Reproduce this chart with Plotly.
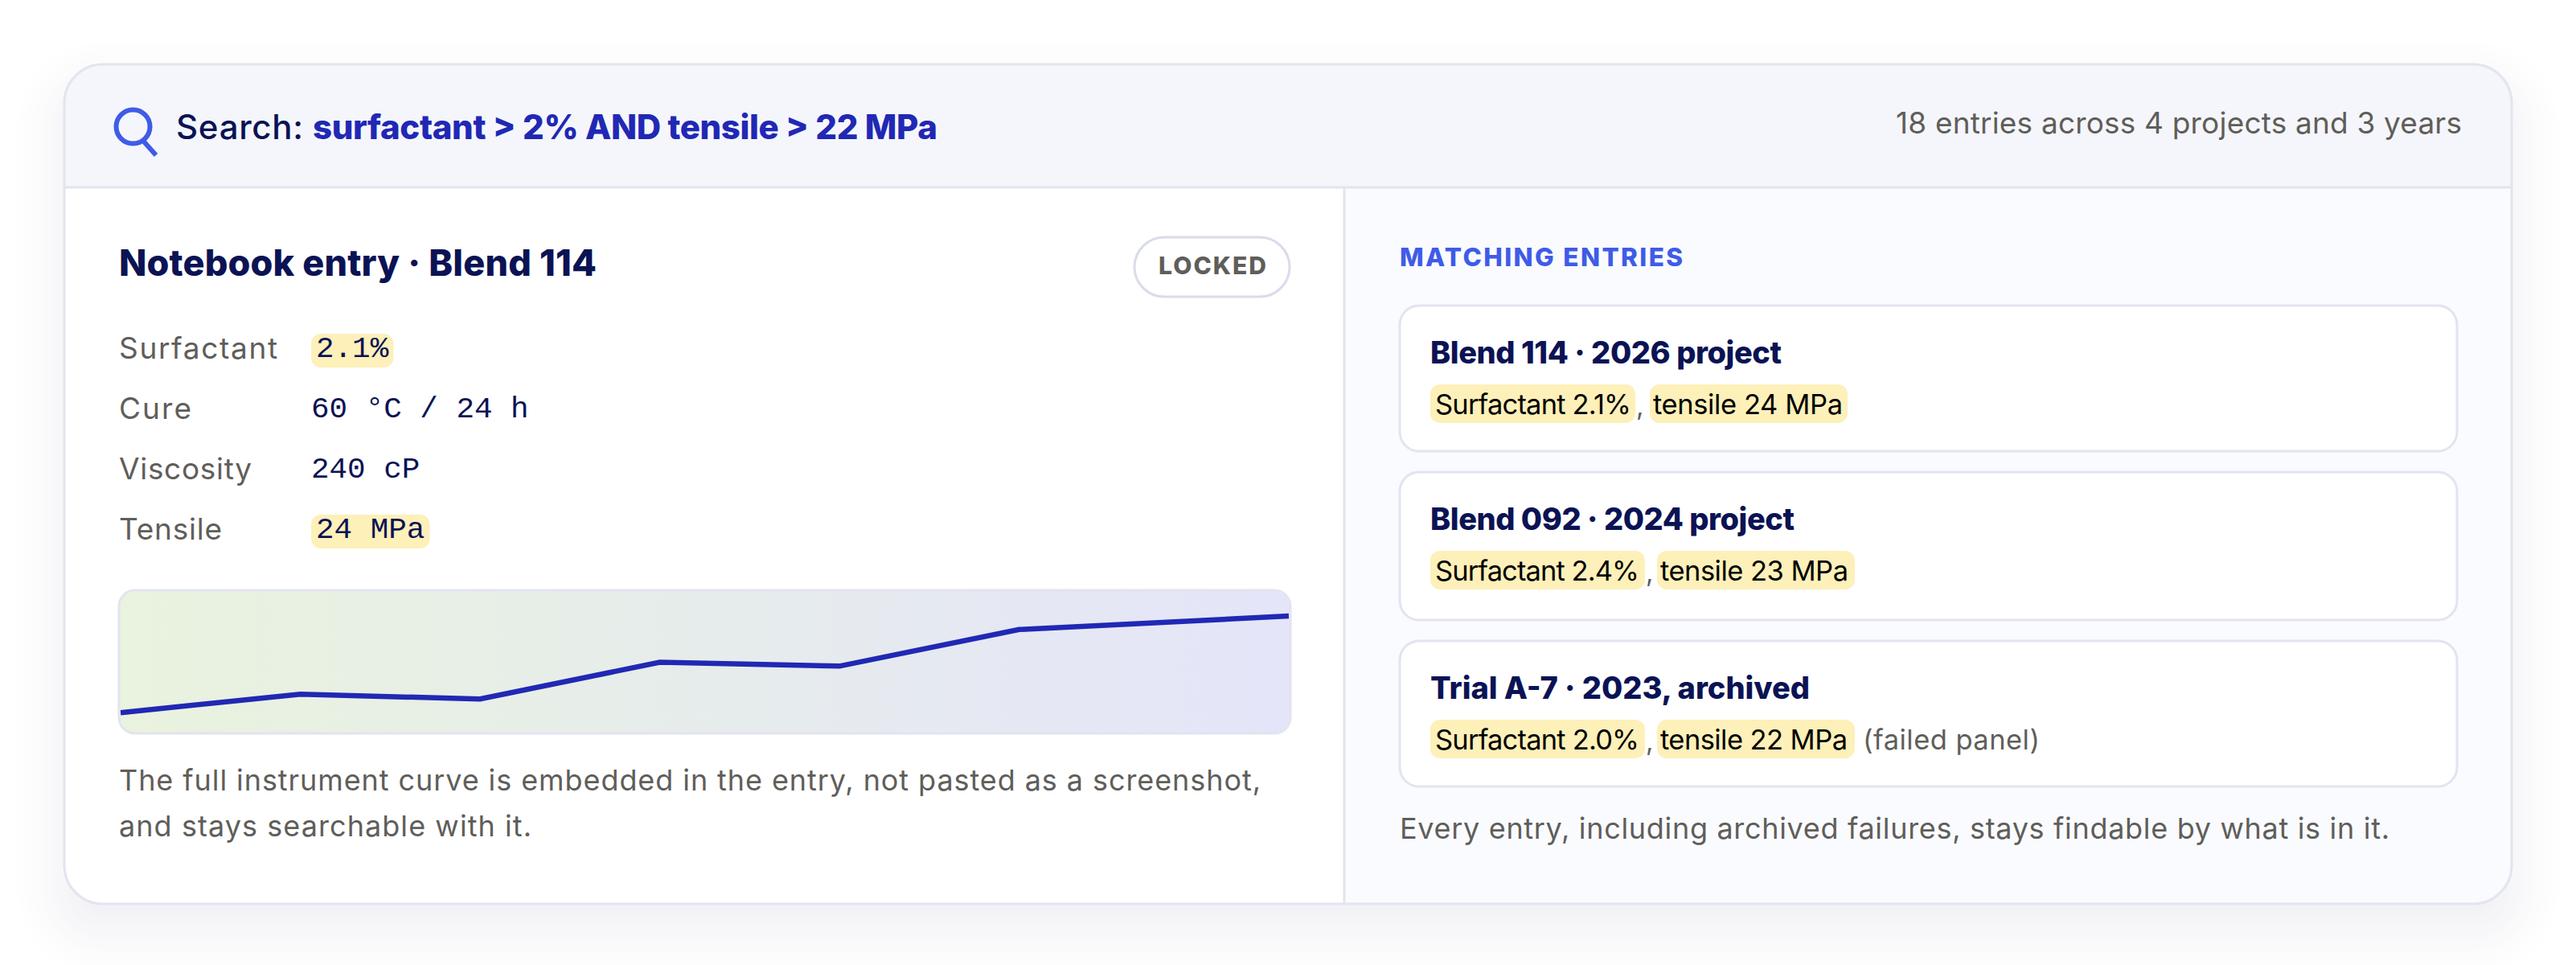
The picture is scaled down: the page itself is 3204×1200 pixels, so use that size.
import json
import plotly.graph_objects as go

# ---- content -------------------------------------------------------------
SEARCH_LABEL = "Search:"
SEARCH_QUERY = "surfactant > 2% AND tensile > 22 MPa"
SEARCH_SUMMARY = "18 entries across 4 projects and 3 years"
ENTRY_TITLE = "Notebook entry · Blend 114"
ENTRY_STATUS = "LOCKED"
FIELD_NAMES = ["Surfactant", "Cure", "Viscosity", "Tensile"]
FIELD_VALUES = ["2.1%", "60 °C / 24 h", "240 cP", "24 MPa"]
ENTRY_NOTE = [
    "The full instrument curve is embedded in the entry, not pasted as a screenshot,",
    "and stays searchable with it.",
]
CURVE_X = [0, 1, 2, 3, 4, 5, 6.5]
CURVE_Y = [14.5, 27.4, 24.0, 49.7, 47.0, 72.6, 82.0]
MATCH_HEAD = "MATCHING ENTRIES"
MATCH_TITLES = ["Blend 114 · 2026 project", "Blend 092 · 2024 project", "Trial A-7 · 2023, archived"]
MATCH_SURFACTANT = ["Surfactant 2.1%", "Surfactant 2.4%", "Surfactant 2.0%"]
MATCH_TENSILE = ["tensile 24 MPa", "tensile 23 MPa", "tensile 22 MPa"]
MATCH_EXTRA = ["", "", "(failed panel)"]
FOOTNOTE = "Every entry, including archived failures, stays findable by what is in it."

# ---- styling --------------------------------------------------------------
W, H = 3204, 1200
NAVY, BLUE, ACCENT, GREY = "#0b1354", "#2128b4", "#3f5be8", "#5f5e5a"
BORDER, HILITE = "#e2e4ef", "#fdf0b9"
SANS = "Inter"
MONO = "Liberation Mono"


def px(x):
    return x / W


def py(y):
    return 1 - y / H


def rr_path(x0, y0, x1, y1, tl=0, tr=0, br=0, bl=0):
    k = 0.45
    P = lambda x, y: f"{px(x):.6f},{py(y):.6f}"
    d = f"M{P(x0 + tl, y0)} L{P(x1 - tr, y0)} "
    if tr:
        d += f"C{P(x1 - tr * k, y0)} {P(x1, y0 + tr * k)} {P(x1, y0 + tr)} "
    d += f"L{P(x1, y1 - br)} "
    if br:
        d += f"C{P(x1, y1 - br * k)} {P(x1 - br * k, y1)} {P(x1 - br, y1)} "
    d += f"L{P(x0 + bl, y1)} "
    if bl:
        d += f"C{P(x0 + bl * k, y1)} {P(x0, y1 - bl * k)} {P(x0, y1 - bl)} "
    d += f"L{P(x0, y0 + tl)} "
    if tl:
        d += f"C{P(x0, y0 + tl * k)} {P(x0 + tl * k, y0)} {P(x0 + tl, y0)} "
    return d + "Z"


shapes, notes, fit = [], [], {}


def box(x0, y0, x1, y1, r=0, fill=None, line=None, lw=0, layer="below", **corners):
    radii = dict(tl=r, tr=r, br=r, bl=r)
    radii.update(corners)
    shapes.append(dict(type="path", xref="paper", yref="paper", layer=layer,
                       path=rr_path(x0, y0, x1, y1, **radii),
                       fillcolor=fill or "rgba(0,0,0,0)",
                       line=dict(color=line or "rgba(0,0,0,0)", width=lw)))


def rule(x0, y0, x1, y1, color=BORDER, lw=3, layer="below"):
    shapes.append(dict(type="line", xref="paper", yref="paper", layer=layer,
                       x0=px(x0), y0=py(y0), x1=px(x1), y1=py(y1),
                       line=dict(color=color, width=lw)))


def text(s, x, y, size, color, family=SANS, weight=400, width=None):
    notes.append(dict(text=s, x=px(x), y=py(y), xref="paper", yref="paper",
                      xanchor="left", yanchor="middle", showarrow=False,
                      borderpad=0, borderwidth=0, align="left",
                      font=dict(family=family, size=size, color=color, weight=weight)))
    if width:
        fit[s] = width


# soft drop shadow: nested opaque rounded rectangles, outermost first
STEPS = 30
SPREAD, DROP = 66, 30
for i in range(STEPS):
    t = (i + 1) / STEPS
    grow = SPREAD - 2 * SPREAD * t
    tone = 0.5 * t + 0.5 * t * t * (3 - 2 * t)
    d = 18 * tone
    c = (255 - round(d), 255 - round(d), 255 - round(d * 0.68))
    box(80 - grow, 80 + DROP - grow, 3124 + grow, 1124 + DROP + grow, r=max(48 + grow, 8), fill=f"rgb{c}")

# card
box(80, 80, 3124, 1124, r=48, fill="#ffffff")
box(80, 80, 3124, 233, fill="#f5f6fb", tl=48, tr=48, br=0, bl=0)
box(1672, 233, 3124, 1124, fill="#fafbff", tl=0, tr=0, br=48, bl=0)
rule(80, 233, 3124, 233)
rule(1672, 233, 1672, 1124)
box(80, 80, 3124, 1124, r=48, line=BORDER, lw=3)

# search header
shapes.append(dict(type="circle", xref="paper", yref="paper", layer="below",
                   x0=px(144.5), x1=px(186.5), y0=py(136.5), y1=py(178.5),
                   line=dict(color=ACCENT, width=6)))
rule(178, 175, 194, 193, ACCENT, 6)
text(SEARCH_LABEL, 219, 157, 42, NAVY, weight=500, width=158)
text(SEARCH_QUERY, 389, 157, 42, BLUE, weight=800, width=777)
text(SEARCH_SUMMARY, 2358, 153, 37, GREY, width=704)

# notebook entry
text(ENTRY_TITLE, 148, 327, 45, NAVY, weight=800, width=594)
box(1411, 295, 1604, 369, r=37, fill="#ffffff", line="#d9dcea", lw=3)
text(ENTRY_STATUS, 1441, 330, 30, GREY, weight=800, width=134)

ROW_Y = [432, 507, 582, 657]
NAME_W = [197, 90, 165, 128]
for name, value, y, w in zip(FIELD_NAMES, FIELD_VALUES, ROW_Y, NAME_W):
    text(name, 148, y, 37, GREY, width=w)
    if value in (FIELD_VALUES[0], FIELD_VALUES[3]):
        right = 387 + 12 + 22.6 * len(value)
        box(387, y - 17, right, y + 25, r=12, fill=HILITE)
        text(value, 393, y + 2, 37.6, NAVY, family=MONO)
    else:
        text(value, 387, y + 2, 37.6, NAVY, family=MONO)

NOTE_W = [1420, 513]
for line_text, y, w in zip(ENTRY_NOTE, [970, 1027], NOTE_W):
    text(line_text, 148, y, 36, GREY, width=w)

# matching entries
text(MATCH_HEAD, 1741, 319, 31.5, ACCENT, weight=800, width=352)
CARD_TOP = [380, 587, 797]
CARD_BOTTOM = [561, 771, 978]
TITLE_W = [437, 453, 472]
HI_A = [(1779, 2034), (1779, 2046), (1779, 2046)]
HI_B = [(2052, 2298), (2061, 2307), (2061, 2307)]
TXT_A = [244, 254, 254]
TXT_B = [236, 234, 233]
for i in range(3):
    top, bottom = CARD_TOP[i], CARD_BOTTOM[i]
    box(1741, top, 3056, bottom, r=24, fill="#ffffff", line=BORDER, lw=3)
    text(MATCH_TITLES[i], 1779, top + 58, 38, NAVY, weight=800, width=TITLE_W[i])
    y0, y1 = top + 98, top + 146
    box(HI_A[i][0], y0, HI_A[i][1], y1, r=12, fill=HILITE)
    box(HI_B[i][0], y0, HI_B[i][1], y1, r=12, fill=HILITE)
    text(MATCH_SURFACTANT[i], HI_A[i][0] + 6, top + 122, 34.5, "#000000", width=TXT_A[i])
    text(",", HI_A[i][1] + 1, top + 124, 33, GREY)
    text(MATCH_TENSILE[i], HI_B[i][0] + 4, top + 122, 34.5, "#000000", width=TXT_B[i])
    if MATCH_EXTRA[i]:
        text(MATCH_EXTRA[i], HI_B[i][1] + 10, top + 122, 34.5, GREY, width=220)
text(FOOTNOTE, 1741, 1030, 36, GREY, width=1231)

# instrument curve plot: axis scale is pixel-fitted so 0 and 6.5 sit just inside the box
BX0, BX1, BY0, BY1 = 148, 1605, 734, 912
UNIT = (1603 - 150) / 6.5
x_lo, x_hi = (BX0 - 150) / UNIT, (BX1 - 150) / UNIT


def to_x(p):
    return (p - 150) / UNIT


def to_y(p):
    return (BY1 - p) / (BY1 - BY0) * 100


R = 20
outline = [(BX0 + R, BY0), (BX1 - R, BY0), (BX1 - R * .29, BY0 + R * .29), (BX1, BY0 + R),
           (BX1, BY1 - R), (BX1 - R * .29, BY1 - R * .29), (BX1 - R, BY1),
           (BX0 + R, BY1), (BX0 + R * .29, BY1 - R * .29), (BX0, BY1 - R),
           (BX0, BY0 + R), (BX0 + R * .29, BY0 + R * .29), (BX0 + R, BY0)]

fig = go.Figure()
fig.add_trace(go.Scatter(
    x=[to_x(p[0]) for p in outline], y=[to_y(p[1]) for p in outline],
    mode="lines", line=dict(width=0), fill="toself", hoverinfo="skip", showlegend=False,
    fillgradient=dict(type="horizontal", colorscale=[[0, "#e9f3de"], [1, "#e4e5f9"]])))
fig.add_trace(go.Scatter(
    x=CURVE_X, y=CURVE_Y, mode="lines", hoverinfo="skip", showlegend=False,
    line=dict(color=BLUE, width=6.5)))
box(BX0, BY0, BX1, BY1, r=R, line=BORDER, lw=3, layer="above")

axis = dict(visible=False, fixedrange=True, showgrid=False, zeroline=False)
fig.update_layout(
    width=W, height=H, autosize=False,
    margin=dict(l=0, r=0, t=0, b=0, pad=0),
    paper_bgcolor="#ffffff", plot_bgcolor="rgba(0,0,0,0)",
    showlegend=False, shapes=shapes, annotations=notes,
    xaxis=dict(domain=[px(BX0), px(BX1)], range=[x_lo, x_hi], **axis),
    yaxis=dict(domain=[py(BY1), py(BY0)], range=[0, 100], **axis),
)
post = """
document.body.style.margin='0';document.documentElement.style.overflow='hidden';
(function(){
  var fit = %s;
  function apply(){
    document.querySelectorAll('text.annotation-text').forEach(function(t){
      var w = fit[t.textContent];
      if(w){t.setAttribute('textLength', w); t.setAttribute('lengthAdjust','spacing');}
    });
  }
  var gd = document.getElementById('{plot_id}');
  apply();
  if(gd && gd.on){gd.on('plotly_afterplot', apply);}
  requestAnimationFrame(apply);
})();
""" % json.dumps(fit)
fig.write_html("out.html", config=dict(displayModeBar=False, responsive=False), post_script=post)
